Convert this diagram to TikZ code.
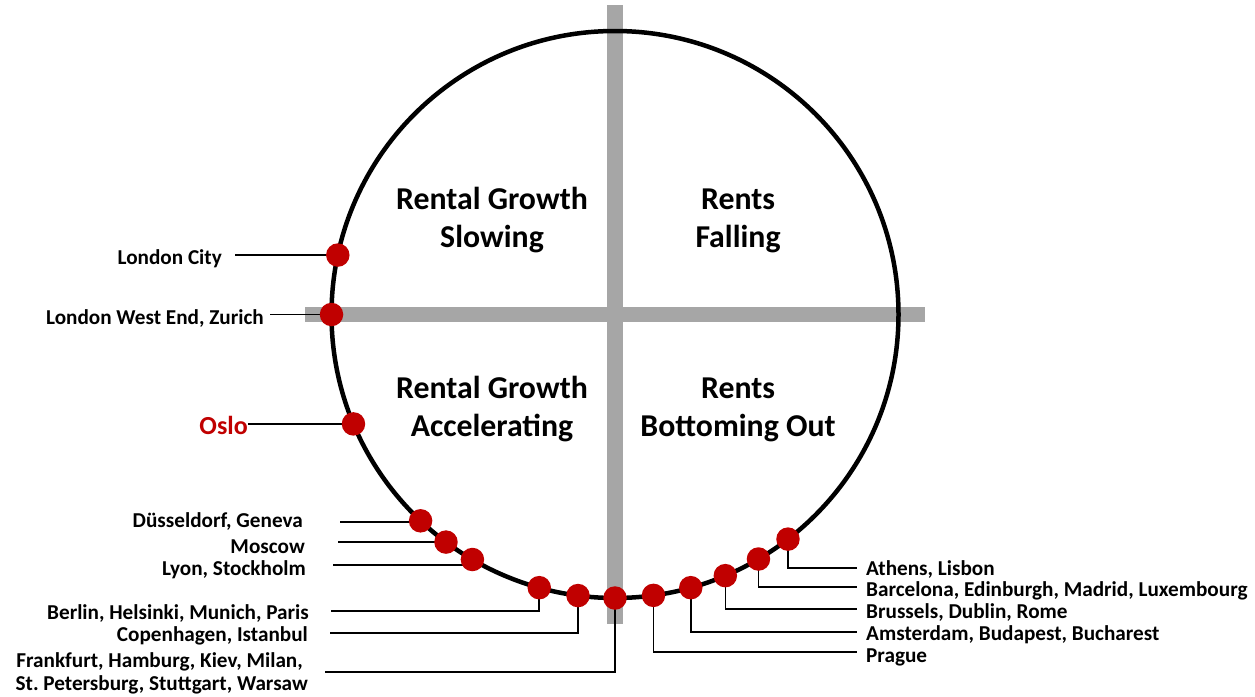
\documentclass[tikz,border=0pt]{standalone}
\usepackage{fontspec}
\setmainfont{Carlito}
\usetikzlibrary{calc}
\definecolor{dotred}{HTML}{C00000}
\definecolor{bargray}{HTML}{A6A6A6}
\frenchspacing
\begin{document}
\begin{tikzpicture}[x=1pt,y=-1pt,
  bar/.style={fill=bargray,draw=none},
  ring/.style={draw=black,line width=4.5pt,circle,minimum size=567pt,inner sep=0pt,outer sep=0pt},
  conn/.style={draw=black,line width=1.6pt},
  dot/.style={circle,fill=dotred,minimum size=23.5pt,inner sep=0pt,outer sep=0pt},
  lbl/.style={font=\fontsize{21.2}{23}\selectfont\bfseries,inner sep=0pt},
  lblL/.style={lbl,anchor=base east},
  lblR/.style={lbl,anchor=base west},
  title/.style={font=\fontsize{31.8}{38}\selectfont\bfseries,inner sep=0pt,anchor=base}]
\useasboundingbox (0,0) rectangle (1255,696);
% bars
\fill[bar] (607,5) rectangle (623,624);
\fill[bar] (305,307) rectangle (925,322);
% ring
\node[ring] (ring) at (615,314.5) {};
\def\R{283.5pt}
% connector free ends
\coordinate (eLC) at (235,256);
\coordinate (eWE) at (270,315);
\coordinate (eOS) at (248,424);
\coordinate (eDU) at (340,522);
\coordinate (eMO) at (338,542);
\coordinate (eLY) at (333,565);
\coordinate (eBE) at (331,611);
\coordinate (eCO) at (330,633);
\coordinate (eFR) at (325,672);
\coordinate (ePR) at (857,652);
\coordinate (eAM) at (857,632);
\coordinate (eBR) at (857,609);
\coordinate (eBA) at (857,587);
\coordinate (eAT) at (857,568);
% points on the ring
\coordinate (pLC) at ($(ring.center)+(167.9:\R)$);
\coordinate (pWE) at ($(ring.center)+(180:\R)$);
\coordinate (pOS) at ($(ring.center)+(202.7:\R)$);
\coordinate (pDU) at ($(ring.center)+(226.7:\R)$);
\coordinate (pMO) at ($(ring.center)+(233.4:\R)$);
\coordinate (pLY) at ($(ring.center)+(239.8:\R)$);
\coordinate (pBE) at ($(ring.center)+(254.5:\R)$);
\coordinate (pCO) at ($(ring.center)+(262.5:\R)$);
\coordinate (pFR) at ($(ring.center)+(270:\R)$);
\coordinate (pPR) at ($(ring.center)+(277.8:\R)$);
\coordinate (pAM) at ($(ring.center)+(285.5:\R)$);
\coordinate (pBR) at ($(ring.center)+(292.9:\R)$);
\coordinate (pBA) at ($(ring.center)+(300.4:\R)$);
\coordinate (pAT) at ($(ring.center)+(307.6:\R)$);
% connectors (under the dots)
\draw[conn] (eLC |- pLC) -- (pLC);
\draw[conn] (eWE |- pWE) -- (pWE);
\draw[conn] (eOS |- pOS) -- (pOS);
\draw[conn] (eDU) -- (eDU -| pDU);
\draw[conn] (eMO |- pMO) -- (pMO);
\draw[conn] (eLY) -- (eLY -| pLY);
\draw[conn] (eBE) -| (pBE);
\draw[conn] (eCO) -| (pCO);
\draw[conn] (eFR) -| (pFR);
\draw[conn] (pPR) |- (ePR);
\draw[conn] (pAM) |- (eAM);
\draw[conn] (pBR) |- (eBR);
\draw[conn] (pBA) |- (eBA);
\draw[conn] (pAT) |- (eAT);
% dots
\foreach \n in {LC,WE,OS,DU,MO,LY,BE,CO,FR,PR,AM,BR,BA,AT}
  \node[dot] (d\n) at (p\n) {};
% quadrant titles
\node[title] (q1a) at (492,209) {Rental Growth};
\node[title] (q1b) at (492,247) {Slowing};
\node[title] (q2a) at (738,209) {Rents};
\node[title] (q2b) at (738,247) {Falling};
\node[title] (q3a) at (492,398) {Rental Growth};
\node[title] (q3b) at (492,436) {Accelerating};
\node[title] (q4a) at (738,398) {Rents};
\node[title] (q4b) at (738,436) {Bottoming Out};
% labels left
\node[lblL] (tLC) at (222,264) {London City};
\node[lblL] (tWE) at (264,324) {London West End, Zurich};
\node[lbl,anchor=base east,font=\fontsize{26}{28}\selectfont\bfseries,text=dotred] (tOS) at (248,434) {Oslo};
\node[lblL] (tDU) at (303,527) {Düsseldorf, Geneva};
\node[lblL] (tMO) at (305,553) {Moscow};
\node[lblL] (tLY) at (306,575) {Lyon, Stockholm};
\node[lblL] (tBE) at (309,619) {Berlin, Helsinki, Munich, Paris};
\node[lblL] (tCO) at (308,641) {Copenhagen, Istanbul};
\node[lblL] (tFR1) at (303,667) {Frankfurt, Hamburg, Kiev, Milan,};
\node[lblL] (tFR2) at (308,690) {St.\ Petersburg, Stuttgart, Warsaw};
% labels right
\node[lblR] (tAT) at (866,575) {Athens, Lisbon};
\node[lblR] (tBA) at (866,596) {Barcelona, Edinburgh, Madrid, Luxembourg};
\node[lblR] (tBR) at (866,618) {Brussels, Dublin, Rome};
\node[lblR] (tAM) at (866,640) {Amsterdam, Budapest, Bucharest};
\node[lblR] (tPR) at (866,662) {Prague};
\end{tikzpicture}
\end{document}
